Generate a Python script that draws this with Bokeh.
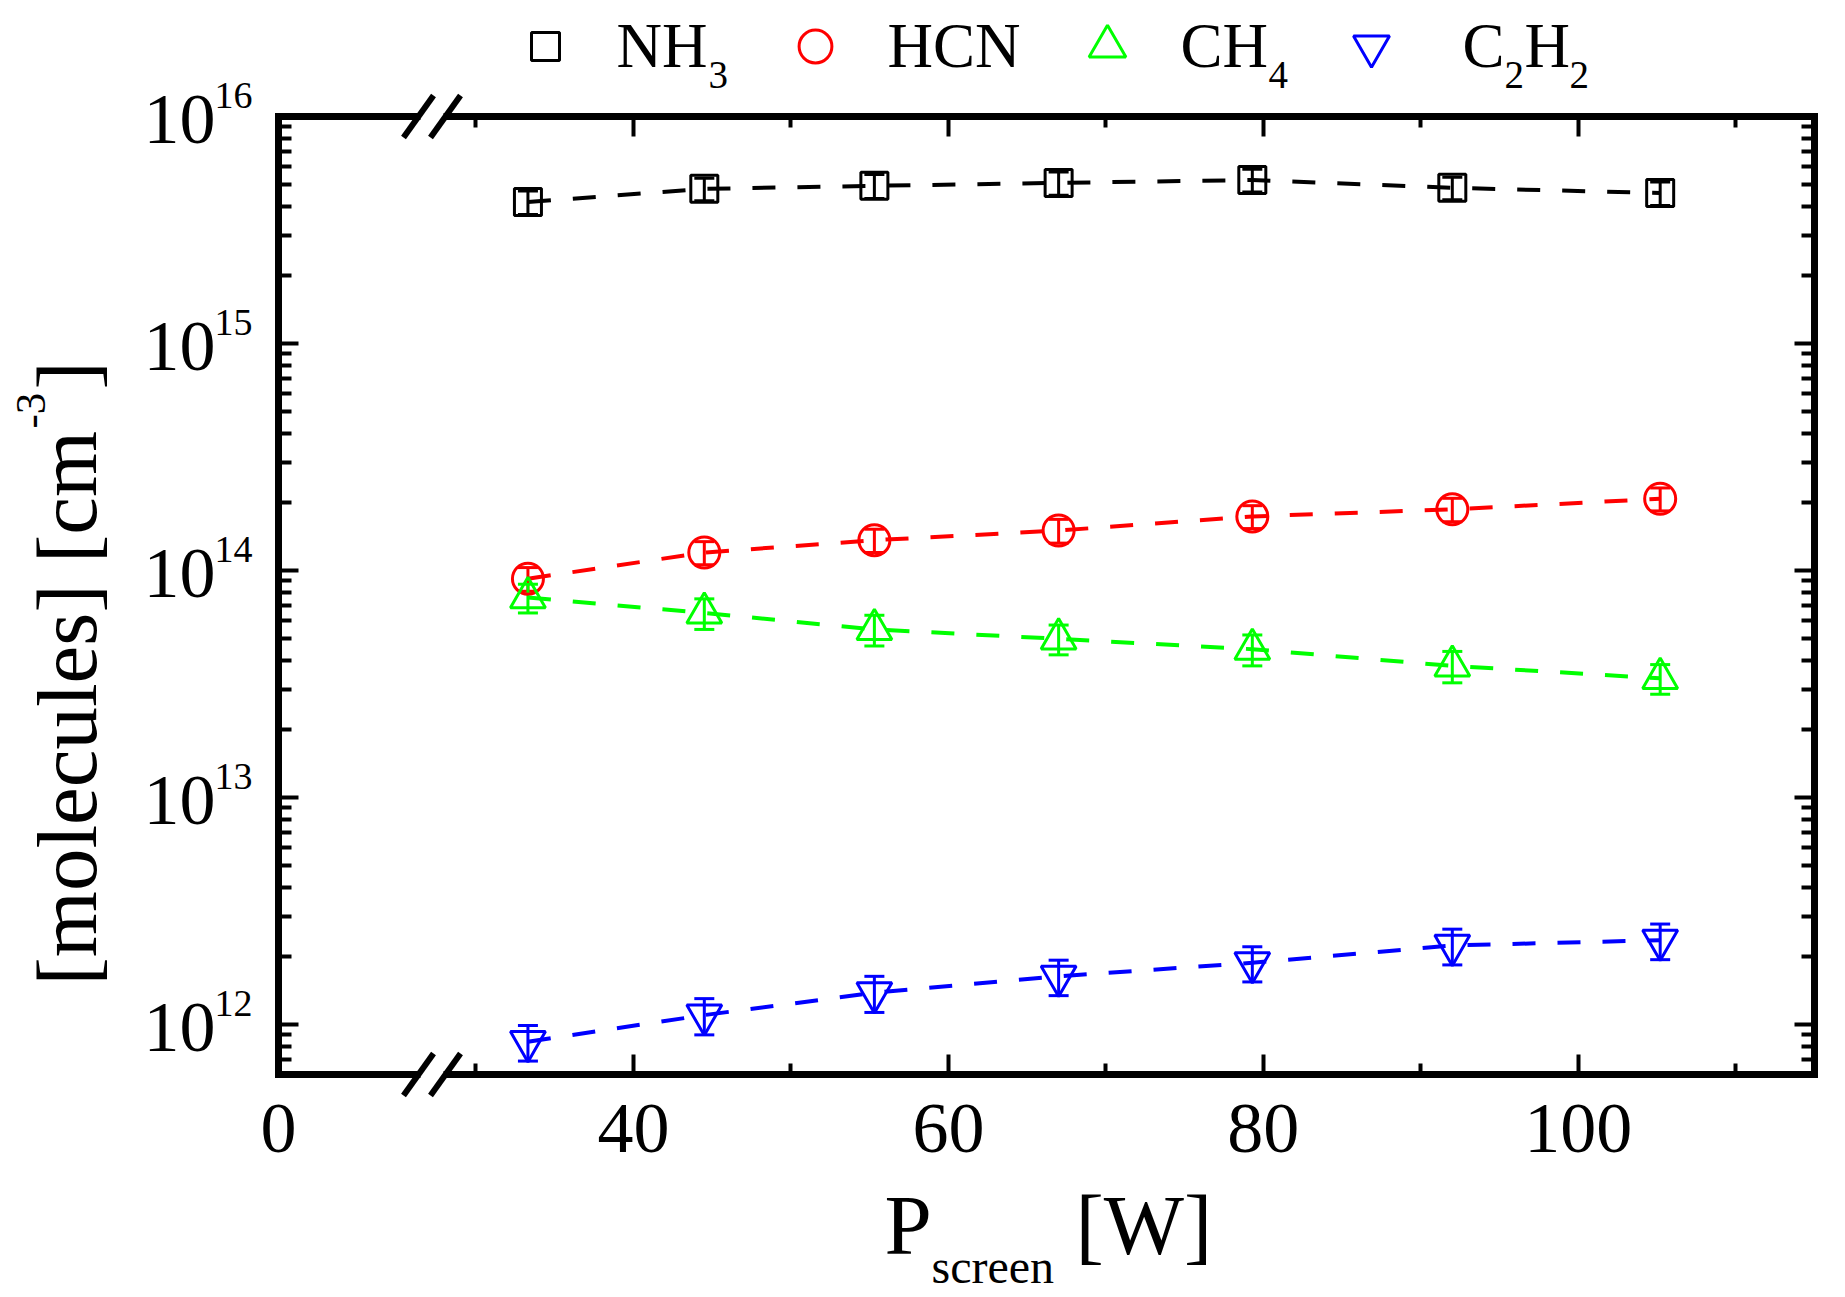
import math
from bokeh.plotting import figure
from bokeh.models import (Range1d, FixedTicker, LinearAxis, LogAxis, CustomJSTickFormatter,
                          Label, Legend, LegendItem, Whisker, TeeHead, ColumnDataSource,
                          Arrow, BoxAnnotation)
from bokeh.core.properties import value
from bokeh.embed import file_html
from bokeh.resources import INLINE

# ---------------- data ----------------
power_w = [33.3, 44.5, 55.3, 67.0, 79.3, 92.0, 105.2]

nh3 = [4.2e15, 4.8e15, 4.95e15, 5.1e15, 5.25e15, 4.85e15, 4.6e15]
nh3_err = [0.5e15, 0.55e15, 0.6e15, 0.6e15, 0.6e15, 0.55e15, 0.55e15]

hcn = [9.2e13, 1.2e14, 1.36e14, 1.5e14, 1.73e14, 1.86e14, 2.07e14]
hcn_err = [1.1e13, 1.4e13, 1.6e13, 1.8e13, 2.0e13, 2.2e13, 2.4e13]

ch4 = [7.6e13, 6.5e13, 5.5e13, 5.0e13, 4.5e13, 3.8e13, 3.35e13]
ch4_err = [1.1e13, 1.0e13, 0.85e13, 0.75e13, 0.7e13, 0.6e13, 0.5e13]

c2h2 = [8.4e11, 1.1e12, 1.38e12, 1.63e12, 1.87e12, 2.23e12, 2.35e12]
c2h2_err = [1.5e11, 2.0e11, 2.5e11, 2.9e11, 3.3e11, 4.0e11, 4.2e11]

x_major_ticks = [40, 60, 80, 100]
x_minor_ticks = [30, 50, 70, 90, 110]
x_tick_labels = ["40", "60", "80", "100"]
x_origin_label = "0"
y_exponents = [12, 13, 14, 15, 16]
y_exponent_labels = ["12", "13", "14", "15", "16"]

# ---------------- layout constants (page pixels) ----------------
W, H = 1840, 1292          # canvas size
MB = 4                     # min border around the frame
FL, FR, FT, FB = 278, 1814, 116, 1074   # visible axes box
X0, X1 = 17.46, 115.0                   # x value at box left / right
LOG_BOT, LOG_TOP = 11.7797, 16.0        # log10 y at box bottom / top
PPU = (FR - FL) / (X1 - X0)             # px per x unit
PPD = (FB - FT) / (LOG_TOP - LOG_BOT)   # px per decade
FONT = "Liberation Serif"
BL = 0.34                               # baseline correction (em)

xs = X0 - (FL - MB) / PPU
xe = X1 + ((W - MB) - FR) / PPU
ly0 = LOG_BOT - ((H - MB) - FB) / PPD
ly1 = LOG_TOP + (FT - MB) / PPD


def px2x(px):
    return X0 + (px - FL) / PPU


def px2y(py):
    return 10 ** (LOG_TOP - (py - FT) / PPD)


p = figure(frame_width=W - 2 * MB, frame_height=H - 2 * MB,
           x_range=Range1d(xs, xe), y_range=Range1d(10 ** ly0, 10 ** ly1),
           y_axis_type="log", output_backend="svg", toolbar_location=None,
           min_border=MB)
p.xgrid.visible = False
p.ygrid.visible = False
p.outline_line_color = None
p.background_fill_color = "white"
p.border_fill_color = "white"

y_minor = [m * 10 ** e for e in range(11, 16) for m in range(2, 10)]
y_minor = [v for v in y_minor if 10 ** LOG_BOT < v < 10 ** LOG_TOP]
y_major = [10 ** e for e in y_exponents]
empty = "return ''"


def style_axis(ax, tick_in, minor_in):
    ax.axis_line_width = 7
    ax.axis_line_color = "black"
    ax.axis_line_cap = "square"
    ax.major_tick_in = tick_in
    ax.major_tick_out = 0
    ax.minor_tick_in = minor_in
    ax.minor_tick_out = 0
    ax.major_tick_line_width = 4
    ax.minor_tick_line_width = 4
    ax.major_tick_line_color = "black"
    ax.minor_tick_line_color = "black"
    ax.major_label_text_font_size = "0px"
    ax.major_label_standoff = 0
    ax.formatter = CustomJSTickFormatter(code=empty)


xb = p.xaxis[0]
xb.ticker = FixedTicker(ticks=x_major_ticks, minor_ticks=x_minor_ticks)
xb.bounds = (X0, X1)
xb.fixed_location = 10 ** LOG_BOT
style_axis(xb, 20, 11)

yl = p.yaxis[0]
yl.ticker = FixedTicker(ticks=y_major, minor_ticks=y_minor)
yl.bounds = (10 ** LOG_BOT, 10 ** LOG_TOP)
yl.fixed_location = X0
style_axis(yl, 20, 13)

xt = LinearAxis(ticker=FixedTicker(ticks=x_major_ticks, minor_ticks=x_minor_ticks),
                bounds=(X0, X1), fixed_location=10 ** LOG_TOP)
style_axis(xt, 20, 11)
p.add_layout(xt, "above")

yr = LogAxis(ticker=FixedTicker(ticks=y_major, minor_ticks=y_minor),
             bounds=(10 ** LOG_BOT, 10 ** LOG_TOP), fixed_location=X1)
style_axis(yr, 20, 13)
p.add_layout(yr, "right")

# ---------------- tick labels (text from the label arrays) ----------------
XT_SIZE = 72
xlab_src = ColumnDataSource(dict(x=[X0] + x_major_ticks,
                                 y=[px2y(1152 - BL * XT_SIZE)] * (len(x_major_ticks) + 1),
                                 t=[x_origin_label] + x_tick_labels))
p.text(x="x", y="y", text="t", source=xlab_src, text_font=value(FONT),
       text_font_size=value(f"{XT_SIZE}px"), text_color="black",
       text_align="center", text_baseline="alphabetic")

YB_SIZE, YE_SIZE = 72, 38
ybase_src = ColumnDataSource(dict(x=[px2x(215)] * len(y_exponents),
                                  y=[10 ** (e - (27 - BL * YB_SIZE) / PPD) for e in y_exponents],
                                  t=["10"] * len(y_exponents)))
p.text(x="x", y="y", text="t", source=ybase_src, text_font=value(FONT),
       text_font_size=value(f"{YB_SIZE}px"), text_color="black",
       text_align="right", text_baseline="alphabetic")
yexp_src = ColumnDataSource(dict(x=[px2x(214)] * len(y_exponents),
                                 y=[10 ** (e + (8 + BL * YE_SIZE) / PPD) for e in y_exponents],
                                 t=y_exponent_labels))
p.text(x="x", y="y", text="t", source=yexp_src, text_font=value(FONT),
       text_font_size=value(f"{YE_SIZE}px"), text_color="black",
       text_align="left", text_baseline="alphabetic")

# ---------------- axis break marks ----------------
for ay in (FT, FB):
    p.add_layout(BoxAnnotation(left=px2x(420), right=px2x(443),
                               top=px2y(ay - 6), bottom=px2y(ay + 6),
                               fill_color="white", fill_alpha=1.0, line_color=None))
    for cx in (418, 445):
        p.add_layout(Arrow(x_start=px2x(cx - 15), y_start=px2y(ay + 21),
                           x_end=px2x(cx + 15), y_end=px2y(ay - 21),
                           start=None, end=None, line_width=6, line_color="black"))

# ---------------- series ----------------
series = [
    ("NH3", nh3, nh3_err, "black", "square", 27, 70, (545, 46)),
    ("HCN", hcn, hcn_err, "#ff0000", "circle", 31, 82, (815, 46)),
    ("CH4", ch4, ch4_err, "#00ff00", "triangle", 35, 92, (1107, 46)),
    ("C2H2", c2h2, c2h2_err, "#0000ff", "inverted_triangle", 35, 90, (1371, 46)),
]

for name, vals, errs, color, marker, size, gsize, (cx, cy) in series:
    src = ColumnDataSource(dict(x=power_w, y=vals,
                                upper=[v + e for v, e in zip(vals, errs)],
                                lower=[v - e for v, e in zip(vals, errs)]))
    p.line("x", "y", source=src, line_color=color, line_width=4, line_dash="23 22")
    p.add_layout(Whisker(source=src, base="x", upper="upper", lower="lower",
                         dimension="height", line_color=color, line_width=3,
                         upper_head=TeeHead(size=20, line_color=color, line_width=3),
                         lower_head=TeeHead(size=20, line_color=color, line_width=3)))
    r = p.scatter("x", "y", source=src, marker=marker, size=size,
                  fill_color=None, line_color=color, line_width=3)
    leg = Legend(items=[LegendItem(label=value(" "), renderers=[r])],
                 location=(cx - MB - gsize / 2, (H - MB) - (cy + gsize / 2)),
                 glyph_width=gsize, glyph_height=gsize, padding=0, margin=0,
                 spacing=0, label_standoff=0, label_width=1, label_height=1,
                 label_text_font_size="1px", border_line_color=None,
                 background_fill_alpha=0)
    p.add_layout(leg)


def txt(text, px, py, size, rotated=False):
    """Place text with its alphabetic baseline at page pixel (px, py)."""
    if rotated:
        px = px - BL * size
        angle = math.pi / 2
    else:
        py = py - BL * size
        angle = 0.0
    p.add_layout(Label(x=px2x(px), y=px2y(py), text=text, text_font=FONT,
                       text_font_size=f"{size}px", text_color="black",
                       text_align="left", text_baseline="alphabetic", angle=angle))


# ---------------- legend texts ----------------
txt("NH", 616, 67, 63)
txt("3", 708, 88, 39)
txt("HCN", 887, 67, 63)
txt("CH", 1180, 67, 63)
txt("4", 1268, 88, 39)
txt("C", 1462, 67, 63)
txt("2", 1504, 88, 39)
txt("H", 1524, 67, 63)
txt("2", 1569, 88, 39)

# ---------------- axis titles ----------------
txt("[molecules] [cm", 95, 985, 85, rotated=True)
txt("-3", 45, 428, 43, rotated=True)
txt("]", 95, 389, 85, rotated=True)

txt("P", 884, 1253, 85)
txt("screen", 931, 1282, 48)
txt("[W]", 1075, 1253, 85)

open("out.html", "w").write(file_html(p, INLINE))
